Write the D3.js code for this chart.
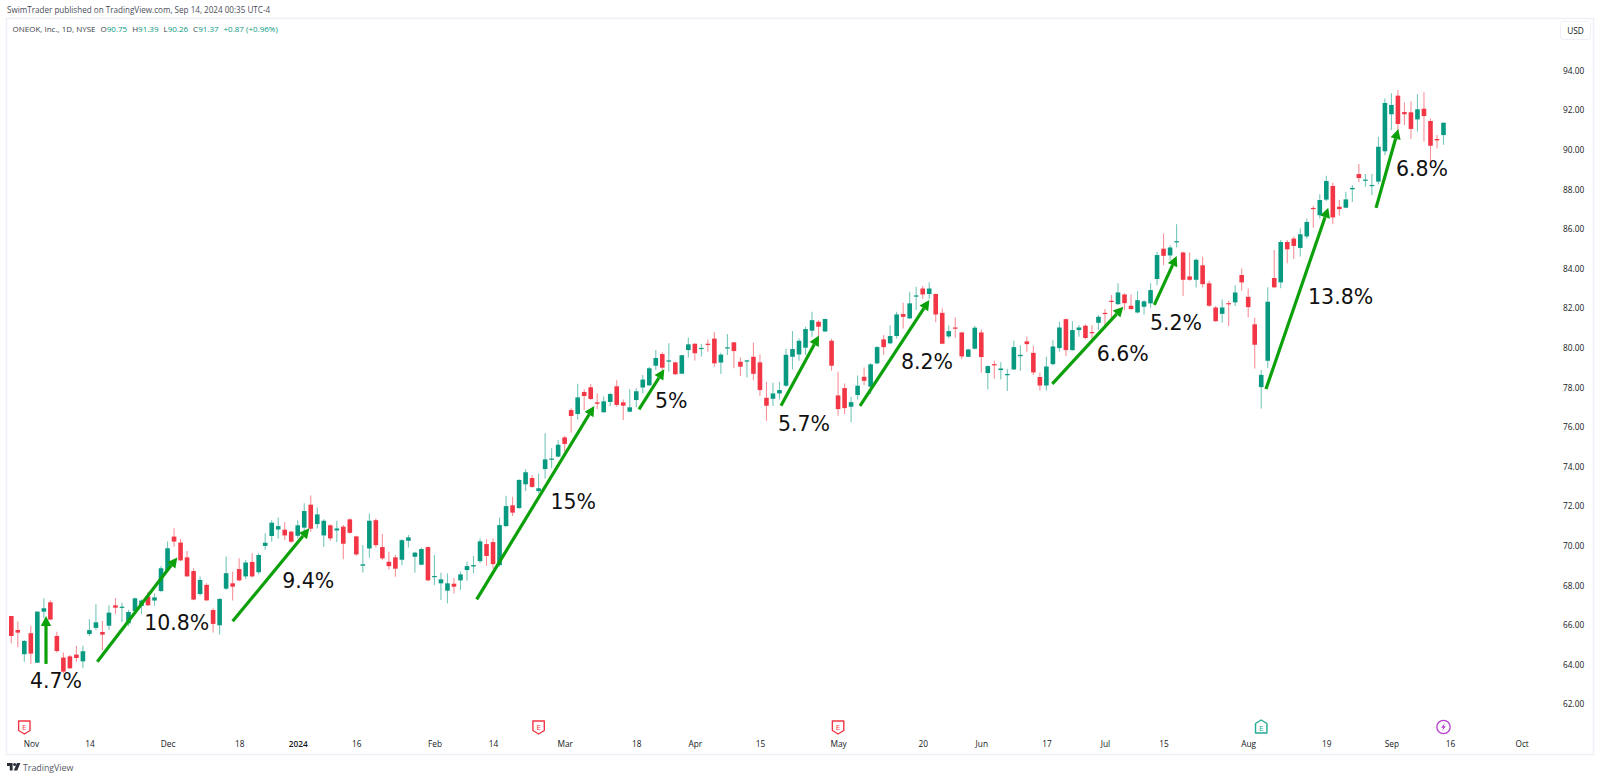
<!DOCTYPE html>
<html>
<head>
<meta charset="utf-8">
<title>ONEOK, Inc. 1D</title>
<script src="https://cdn.jsdelivr.net/npm/d3@7"></script>
<style>
  html, body { margin: 0; padding: 0; background: #fff; overflow: hidden; }
  svg { display: block; }
  text { font-family: "Open Sans", sans-serif; }
  .axis text { font-size: 8.3px; fill: #131722; }
  .label { font-family: "DejaVu Sans", sans-serif; font-size: 20.5px; fill: #111; }
</style>
</head>
<body>
<svg id="chart" width="1600" height="779"></svg>
<script>
// daily candles (index 0 = late Oct 2023, last = Sep 13 2024)
const opens = [
  66.46,65.75,64.53,65.59,64.1,66.68,67.15,65.45,64.36,64.42,
  64.51,64.17,65.55,65.86,65.65,65.97,67.0,66.88,66.09,66.71,
  66.97,67.44,67.24,67.72,68.78,70.47,70.17,69.42,68.73,67.57,
  68.03,66.76,65.99,67.84,68.11,68.83,68.46,69.19,68.67,70.0,
  70.5,70.83,70.82,70.72,70.51,70.92,72.08,71.1,70.53,71.04,
  70.78,70.97,71.34,70.48,69.0,69.87,71.3,69.94,69.2,69.42,
  69.3,70.26,69.45,69.05,69.94,68.43,68.11,67.74,68.09,68.26,
  68.78,68.96,69.23,70.09,70.19,69.03,71.0,72.05,71.91,73.11,
  73.43,72.77,73.88,74.37,74.51,75.48,76.86,76.66,77.77,78.01,
  77.25,76.75,77.27,78.06,77.25,76.78,77.37,78.0,78.11,79.1,
  79.69,79.32,79.27,78.7,79.89,80.21,79.96,80.21,80.47,79.26,
  79.98,80.28,79.3,79.34,79.55,79.27,77.48,77.43,77.7,78.09,
  79.55,79.67,80.01,80.87,81.32,80.83,80.36,77.6,77.97,77.03,
  77.62,78.54,78.04,79.22,80.43,80.23,80.6,81.71,81.49,82.6,
  83.0,82.72,82.72,81.77,80.58,81.03,80.78,79.55,79.96,80.78,
  78.73,79.18,78.88,78.63,78.91,79.58,80.33,79.75,78.53,78.1,
  79.18,79.99,81.45,79.89,80.9,81.12,80.8,81.27,81.77,82.38,
  82.21,82.7,82.13,81.79,82.08,82.25,83.48,85.01,84.67,85.34,
  84.82,83.61,83.44,84.17,83.26,82.04,81.72,82.26,82.3,83.68,
  82.58,81.19,78.02,79.35,83.53,83.31,85.35,85.52,85.05,85.63,
  87.07,86.7,87.49,88.18,87.13,87.08,88.01,88.78,88.45,88.18,
  88.4,89.93,91.8,92.74,91.91,91.9,91.54,92.08,91.46,90.55,
  90.75
];
const highs = [
  66.46,66.18,65.25,65.97,66.7,67.35,67.25,65.67,64.61,64.49,
  64.96,64.96,66.29,67.05,66.21,67.0,67.37,67.13,66.77,67.4,
  67.3,67.69,67.6,68.99,70.22,70.89,70.35,69.74,68.87,68.45,
  68.11,66.85,67.35,69.46,68.7,69.37,69.29,69.63,69.63,70.64,
  71.3,71.44,71.19,70.77,71.3,72.15,72.55,71.94,71.34,71.09,
  71.27,71.05,71.39,70.51,70.04,71.64,71.39,70.6,69.71,69.54,
  70.33,70.55,69.71,69.92,69.97,69.54,68.64,68.61,68.38,68.7,
  69.2,69.49,70.38,70.34,70.38,71.44,72.53,72.48,73.36,73.87,
  73.58,73.66,75.69,74.93,75.35,75.55,76.95,78.19,77.91,78.18,
  77.71,77.54,77.74,78.36,77.4,77.91,77.96,78.63,79.05,79.89,
  79.78,80.23,79.3,79.66,80.53,80.23,80.2,80.43,80.8,79.76,
  80.7,80.3,79.51,79.39,80.26,79.67,78.29,78.24,78.29,79.96,
  80.85,80.48,81.07,81.83,81.4,81.47,80.46,78.8,78.2,77.53,
  78.61,79.01,79.22,80.09,80.65,81.14,81.83,82.28,82.84,83.09,
  83.12,83.32,82.75,82.0,81.14,81.54,80.82,79.96,81.1,80.93,
  79.13,79.35,79.27,78.93,80.36,80.14,80.56,80.11,78.76,79.55,
  80.39,81.32,81.49,81.35,81.15,81.2,81.15,81.66,81.96,82.67,
  83.26,82.75,82.7,82.87,82.41,83.26,84.86,85.78,85.19,86.24,
  84.86,84.82,84.52,84.6,83.39,82.11,82.45,82.38,83.17,84.01,
  83.0,81.52,78.88,83.06,84.94,85.45,85.45,85.62,86.04,86.54,
  87.17,87.76,88.7,88.34,87.47,87.89,88.21,89.29,88.78,88.78,
  90.67,92.6,92.86,93.02,92.4,92.44,92.81,92.91,91.59,90.75,
  91.39
];
const lows = [
  65.08,64.88,64.15,64.04,64.1,66.34,66.26,64.61,63.57,63.78,
  64.15,63.82,65.45,65.74,64.74,65.75,66.56,66.16,65.95,66.6,
  66.56,66.97,66.98,67.66,68.7,69.96,69.24,68.45,67.25,67.49,
  67.22,65.62,65.53,67.77,67.24,68.2,68.33,68.41,68.57,69.8,
  70.21,70.38,70.3,70.16,70.38,70.72,70.72,70.88,69.96,70.26,
  70.18,69.32,70.63,69.5,68.66,69.4,69.92,69.28,68.81,68.44,
  69.02,69.92,68.64,69.02,68.22,68.02,67.27,67.1,67.6,67.77,
  68.24,68.61,69.12,69.0,68.85,68.95,70.97,71.51,71.88,72.77,
  72.94,72.66,73.41,73.92,74.46,74.76,75.72,76.39,76.86,77.37,
  76.91,76.73,77.07,77.03,76.36,76.75,77.0,77.71,78.08,78.88,
  78.72,78.8,78.63,78.67,79.52,79.36,79.56,79.81,79.05,78.68,
  79.64,78.97,78.58,78.51,78.37,77.57,76.32,77.06,77.4,78.04,
  78.91,79.35,79.64,80.56,80.31,80.8,78.85,76.57,76.66,76.25,
  77.4,78.12,77.67,79.18,79.65,80.19,80.48,80.98,81.46,81.91,
  82.47,82.47,81.29,80.19,80.48,80.51,79.43,79.54,79.92,78.74,
  77.9,78.44,78.41,77.82,78.88,78.85,79.81,78.63,77.85,77.85,
  79.13,79.81,79.59,79.86,80.56,80.44,80.48,80.9,81.07,81.49,
  82.16,81.91,81.94,81.74,81.69,82.03,83.17,84.18,84.43,85.07,
  82.62,83.39,83.05,83.05,82.08,81.32,81.27,81.1,82.11,82.89,
  81.54,78.96,76.94,78.98,83.01,83.01,84.27,84.49,84.61,85.53,
  86.07,86.54,87.42,86.24,86.68,87.05,87.37,88.36,88.14,87.72,
  88.26,89.74,91.0,90.92,91.26,90.55,90.92,90.42,89.41,90.08,
  90.26
];
const closes = [
  65.45,65.62,65.2,64.56,66.68,66.85,66.28,64.69,63.65,63.82,
  64.34,64.68,65.75,66.14,65.52,66.63,66.88,66.93,66.66,67.35,
  67.24,67.0,67.4,68.87,69.88,70.22,69.27,68.46,67.29,68.28,
  67.25,66.06,67.32,68.62,67.94,68.26,69.16,68.46,69.54,70.16,
  71.17,71.0,70.53,70.21,71.04,71.76,70.87,71.59,71.27,70.38,
  70.88,70.11,70.66,69.57,69.07,71.27,70.04,69.37,68.98,68.85,
  70.29,70.43,69.66,69.84,68.26,68.48,68.31,68.11,67.94,68.56,
  68.98,69.03,70.23,69.49,69.08,71.05,72.01,71.68,73.33,73.72,
  72.98,72.91,74.37,74.41,75.11,75.15,76.56,77.5,77.57,77.42,
  77.18,77.3,77.67,77.12,77.08,77.0,77.81,78.4,78.97,79.49,
  79.0,79.37,78.67,79.63,80.18,79.73,80.0,80.16,79.22,79.66,
  80.03,79.84,79.05,79.37,78.69,77.87,77.08,77.7,77.87,79.65,
  79.94,80.36,80.95,81.4,81.07,81.46,79.1,76.91,76.96,77.26,
  78.09,78.34,79.17,80.04,80.04,80.6,81.69,81.57,82.25,82.65,
  82.7,83.0,81.69,80.21,80.85,80.97,79.57,79.92,81.02,79.54,
  79.08,79.13,78.96,78.68,80.04,79.65,80.19,78.76,78.1,79.06,
  80.07,81.03,79.89,80.9,81.03,80.5,80.75,81.57,81.72,82.33,
  82.8,82.26,81.96,82.41,82.35,82.92,84.69,84.65,85.07,85.39,
  83.44,83.44,84.45,83.22,82.13,81.35,82.04,82.21,82.8,83.31,
  82.06,80.16,78.64,82.33,83.06,85.35,84.98,85.15,85.74,86.36,
  87.03,87.47,88.43,86.59,87.01,87.5,88.08,88.58,88.5,88.23,
  90.16,92.37,92.27,91.31,91.8,91.06,92.05,91.71,90.21,90.48,
  91.37
];

// axis labels
const priceTicks = [62,64,66,68,70,72,74,76,78,80,82,84,86,88,90,92,94];
const timeTicks = [3,12,24,35,44,53,65,74,85,96,105,115,127,140,149,159,168,177,190,202,212,221,232];
const timeLabels = ["Nov","14","Dec","18","2024","16","Feb","14","Mar","18","Apr","15","May","20","Jun","17","Jul","15","Aug","19","Sep","16","Oct"];

// the hand drawn arrows: candle index and price at both ends
const arrowFromIdx = [5.33,13.21,34.0,71.49,96.42,118.23,130.37,159.91,175.58,192.73,209.64];
const arrowFromPrice = [64.04,64.15,66.19,67.3,76.9,77.08,77.07,78.18,82.17,77.92,87.07];
const arrowToIdx = [5.33,25.5,45.78,89.55,100.31,124.07,141.02,170.82,179.02,202.3,213.06];
const arrowToPrice = [66.46,69.42,70.89,77.07,78.92,80.62,82.42,82.08,84.64,87.08,91.06];

const gainLabels = ["4.7%","10.8%","9.4%","15%","5%","5.7%","8.2%","6.6%","5.2%","13.8%","6.8%"];
const gainIdx = [6.87,25.41,45.62,86.33,101.38,121.77,140.66,170.72,178.9,204.2,216.7];
const gainPrice = [63.2,66.12,68.24,72.2,77.32,76.16,79.3,79.69,81.27,82.59,89.02];

// events on the time axis
const earningsDown = [2,81,127];
const earningsUp = [192];
const dividendIdx = [220];

const GREEN = "#089981";
const RED = "#F23645";
const ARROW = "#0CA00A";

const svg = d3.select("#chart");
const x = d3.scaleLinear().domain([0,232]).range([11.3, 11.3 + 232*6.51]);
const y = d3.scaleLinear().domain([62,94]).range([704.3, 70.7]);
const bodyW = 4.6;

// header
svg.append("text").attr("x",7).attr("y",13).attr("fill","#4a4e59").style("font-size","8.1px")
  .text("SwimTrader published on TradingView.com, Sep 14, 2024 00:35 UTC-4");

// pane frame
svg.append("rect").attr("x",6.5).attr("y",18.5).attr("width",1587).attr("height",736)
  .attr("fill","#fff").attr("stroke","#eef0f6").attr("stroke-width",1.5);

const legend = svg.append("text").attr("x",12.5).attr("y",31.5).style("font-size","8px").attr("fill","#3b3f4a");
legend.append("tspan").text("ONEOK, Inc., 1D, NYSE");
[["O","90.75"],["H","91.39"],["L","90.26"],["C","91.37"]].forEach((d,i)=>{
  legend.append("tspan").attr("dx", 5).text(d[0]);
  legend.append("tspan").attr("fill",GREEN).text(d[1]);
});
legend.append("tspan").attr("dx",5).attr("fill",GREEN).text("+0.87 (+0.96%)");

// USD box
svg.append("rect").attr("x",1560.5).attr("y",21.5).attr("width",30).attr("height",18).attr("rx",3)
  .attr("fill","#fff").attr("stroke","#eef0f6");
svg.append("text").attr("x",1575.5).attr("y",33.5).attr("text-anchor","middle").attr("fill","#131722")
  .style("font-size","8.3px").text("USD");

// axes
const priceAxis = svg.append("g").attr("class","axis").attr("transform","translate(1560,0)")
  .call(d3.axisRight(y).tickValues(priceTicks).tickSize(0).tickFormat(d=>d.toFixed(2)));
priceAxis.select(".domain").remove();

const timeAxis = svg.append("g").attr("class","axis").attr("transform","translate(0,738)")
  .call(d3.axisBottom(x).tickValues(timeTicks).tickSize(0).tickFormat((d,i)=>timeLabels[i]));
timeAxis.select(".domain").remove();
timeAxis.selectAll("text").filter(d=>d===44).style("font-weight","600");

// candles
const candles = d3.range(opens.length);
const colorOf = i => closes[i] >= opens[i] ? GREEN : RED;

svg.append("g").selectAll("line").data(candles).join("line")
  .attr("x1",i=>x(i)).attr("x2",i=>x(i))
  .attr("y1",i=>y(highs[i])).attr("y2",i=>y(lows[i]))
  .attr("stroke",colorOf).attr("stroke-opacity",0.55).attr("stroke-width",1.1);

svg.append("g").selectAll("rect").data(candles).join("rect")
  .attr("x",i=>x(i)-bodyW/2).attr("width",bodyW)
  .attr("y",i=>y(Math.max(opens[i],closes[i])))
  .attr("height",i=>Math.max(1.2, Math.abs(y(opens[i])-y(closes[i]))))
  .attr("fill",colorOf);

// arrows
const arrows = svg.append("g");
arrowFromIdx.forEach((d,i)=>{
  const x1 = x(d), y1 = y(arrowFromPrice[i]), x2 = x(arrowToIdx[i]), y2 = y(arrowToPrice[i]);
  const a = Math.atan2(y2-y1, x2-x1);
  const headL = 10, headW = 5.2;
  const bx = x2 - headL*Math.cos(a), by = y2 - headL*Math.sin(a);
  arrows.append("line").attr("x1",x1).attr("y1",y1).attr("x2",bx).attr("y2",by)
    .attr("stroke",ARROW).attr("stroke-width",3.2);
  const nx = -Math.sin(a)*headW, ny = Math.cos(a)*headW;
  arrows.append("path")
    .attr("d",`M${x2},${y2} L${bx+nx},${by+ny} L${bx-nx},${by-ny} Z`)
    .attr("fill",ARROW);
});

// gain labels
svg.append("g").selectAll("text").data(gainLabels).join("text")
  .attr("class","label").attr("text-anchor","middle").attr("dominant-baseline","central")
  .attr("x",(d,i)=>x(gainIdx[i])).attr("y",(d,i)=>y(gainPrice[i])).text(d=>d);

// earnings and dividend marks
const markY = 727;
const marks = svg.append("g");
earningsDown.forEach(i=>{
  marks.append("path").attr("transform",`translate(${x(i)},${markY})`)
    .attr("d","M-5.7,-6 H5.7 V3.5 L0,7 L-5.7,3.5 Z")
    .attr("fill","#fff").attr("stroke",RED).attr("stroke-width",1.4).attr("stroke-linejoin","round");
  marks.append("text").attr("x",x(i)).attr("y",markY+3).attr("text-anchor","middle")
    .attr("fill",RED).style("font-size","8px").text("E");
});
earningsUp.forEach(i=>{
  marks.append("path").attr("transform",`translate(${x(i)},${markY})`)
    .attr("d","M-5.7,6 H5.7 V-3.5 L0,-7 L-5.7,-3.5 Z")
    .attr("fill","#fff").attr("stroke","#22AB94").attr("stroke-width",1.4).attr("stroke-linejoin","round");
  marks.append("text").attr("x",x(i)).attr("y",markY+3.5).attr("text-anchor","middle")
    .attr("fill","#22AB94").style("font-size","8px").text("E");
});
dividendIdx.forEach(i=>{
  marks.append("circle").attr("cx",x(i)).attr("cy",markY).attr("r",6.7)
    .attr("fill","#fff").attr("stroke","#BA3FD0").attr("stroke-width",1.3);
  marks.append("path").attr("transform",`translate(${x(i)},${markY})`)
    .attr("d","M1.4,-4 L-2.4,0.8 H-0.2 L-1.4,4 L2.4,-0.8 H0.2 Z").attr("fill","#BA3FD0");
});

// TradingView footer
const logo = svg.append("g").attr("transform","translate(7,763)").attr("fill","#2a2e39");
logo.append("path").attr("d","M0,0 H5.6 V7.5 H2.8 V3 H0 Z");
logo.append("circle").attr("cx",7.6).attr("cy",1.5).attr("r",1.5);
logo.append("path").attr("d","M13.4,0 L10.2,7.5 H6.8 L10,0 Z");
svg.append("text").attr("x",23).attr("y",770.5).attr("fill","#555963").style("font-size","8.8px").text("TradingView");
</script>
</body>
</html>
